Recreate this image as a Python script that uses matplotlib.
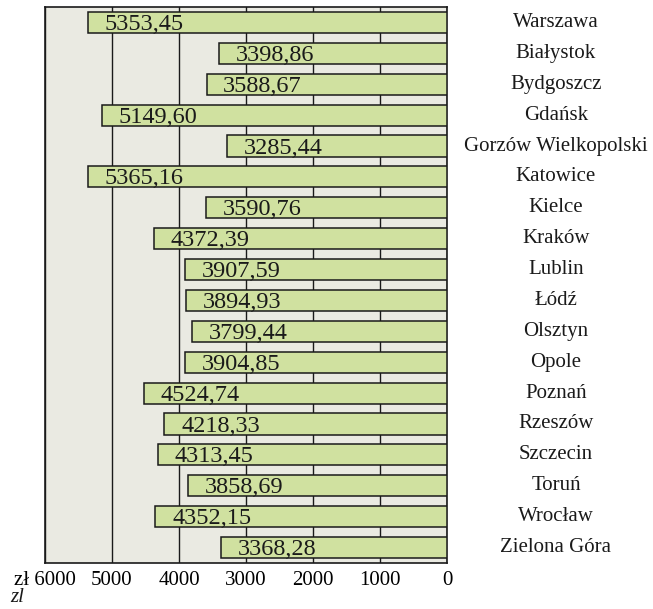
import numpy as np
import matplotlib.pyplot as plt

# przecietne wynagrodzenie brutto w miastach wojewodzkich (zl)
cities = ['Warszawa', 'Białystok', 'Bydgoszcz', 'Gdańsk', 'Gorzów Wielkopolski',
          'Katowice', 'Kielce', 'Kraków', 'Lublin', 'Łódź', 'Olsztyn', 'Opole',
          'Poznań', 'Rzeszów', 'Szczecin', 'Toruń', 'Wrocław', 'Zielona Góra']
values = [5353.45, 3398.86, 3588.67, 5149.60, 3285.44, 5365.16, 3590.76, 4372.39,
          3907.59, 3894.93, 3799.44, 3904.85, 4524.74, 4218.33, 4313.45, 3858.69,
          4352.15, 3368.28]
xticks = [6000, 5000, 4000, 3000, 2000, 1000, 0]
xticklabels = ['zł 6000', '5000', '4000', '3000', '2000', '1000', '0']

plt.rcParams['font.family'] = ['Liberation Serif', 'DejaVu Serif']

fig = plt.figure(figsize=(6.53, 6.09), dpi=100)
ax = fig.add_axes([45/653, 46/609, 402/653, 556/609])
ax.set_facecolor('#eaeae2')

y = np.arange(len(cities))
ax.barh(y, values, height=0.68, color='#d0e1a0', edgecolor='#1a1a1a',
        linewidth=1.1, zorder=3)

for yi, v in zip(y, values):
    label = f'{v:.2f}'.replace('.', ',')
    ax.annotate(label, xy=(v, yi), xytext=(12, -1.5), textcoords='offset points',
                ha='left', va='center', fontsize=17.5, color='#1a1a1a', zorder=4)
    ax.text(1.271, yi, cities[yi], transform=ax.get_yaxis_transform(),
            ha='center', va='center', fontsize=15, color='#1a1a1a')

ax.set_xlim(6000, 0)
ax.set_ylim(len(cities) - 0.5, -0.5)
ax.set_xticks(xticks)
ax.set_xticklabels(xticklabels, fontsize=15)
ax.set_yticks([])
ax.tick_params(axis='x', length=0, pad=6)
ax.grid(axis='x', color='#1a1a1a', linewidth=1.0, zorder=1)
for s in ax.spines.values():
    s.set_color('#1a1a1a')
    s.set_linewidth(1.2)

fig.text(10/653, 1 - 598/609, 'zl', fontsize=15, style='italic',
         ha='left', va='center', color='#1a1a1a')

fig.savefig('out.png', dpi=100)
